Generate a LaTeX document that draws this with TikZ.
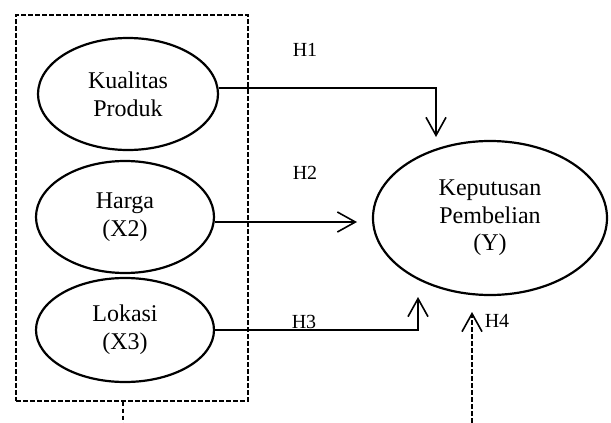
\documentclass[tikz,border=0pt]{standalone}
\usepackage{fontspec}
\setmainfont{Liberation Serif}
\usetikzlibrary{arrows.meta,shapes.geometric}
\begin{document}
\begin{tikzpicture}[x=0.5pt,y=-0.5pt,
  var/.style={draw,ellipse,line width=1.1pt,inner sep=0pt,align=center,font=\fontsize{12}{13.8}\selectfont},
  hyp/.style={font=\fontsize{10}{12}\selectfont},
  dsh/.style={line width=0.65pt,dash pattern=on 2.4pt off 1.1pt},
  link/.style={line width=0.8pt,-{Straight Barb[length=9pt,width=10pt,line width=0.8pt]}}]
\useasboundingbox (0,0) rectangle (611,423);
\node[draw,dsh,minimum width=116pt,minimum height=193pt] (grp) at (132,208) {};
\node[var,minimum width=90pt,minimum height=56pt] (x1) at (128,94) {Kualitas\\Produk};
\node[var,minimum width=89pt,minimum height=56pt] (x2) at (125,217) {Harga\\(X2)};
\node[var,minimum width=89pt,minimum height=52pt] (x3) at (125,330) {Lokasi\\(X3)};
\node[var,minimum width=117pt,minimum height=77pt] (y) at (490,218) {Keputusan\\Pembelian\\(Y)};
\coordinate (t1) at (436,137); \coordinate (t2) at (357,222); \coordinate (t3) at (418,297);
\coordinate (t4) at (472,312); \coordinate (b4) at (472,423); \coordinate (b0) at (123,423);
\draw[link] ([yshift=3pt]x1.east) -| (t1);
\draw[link] ([yshift=-2.5pt]x2.east) -- (t2);
\draw[link] (x3.east) -| (t3);
\draw[link,dsh] (b4) -- (t4);
\draw[dsh] (grp.south -| b0) -- (b0);
\node[hyp] (h1) at (305,50) {H1}; \node[hyp] (h2) at (305,173) {H2};
\node[hyp] (h3) at (304,322) {H3}; \node[hyp] (h4) at (497,321) {H4};
\end{tikzpicture}
\end{document}
